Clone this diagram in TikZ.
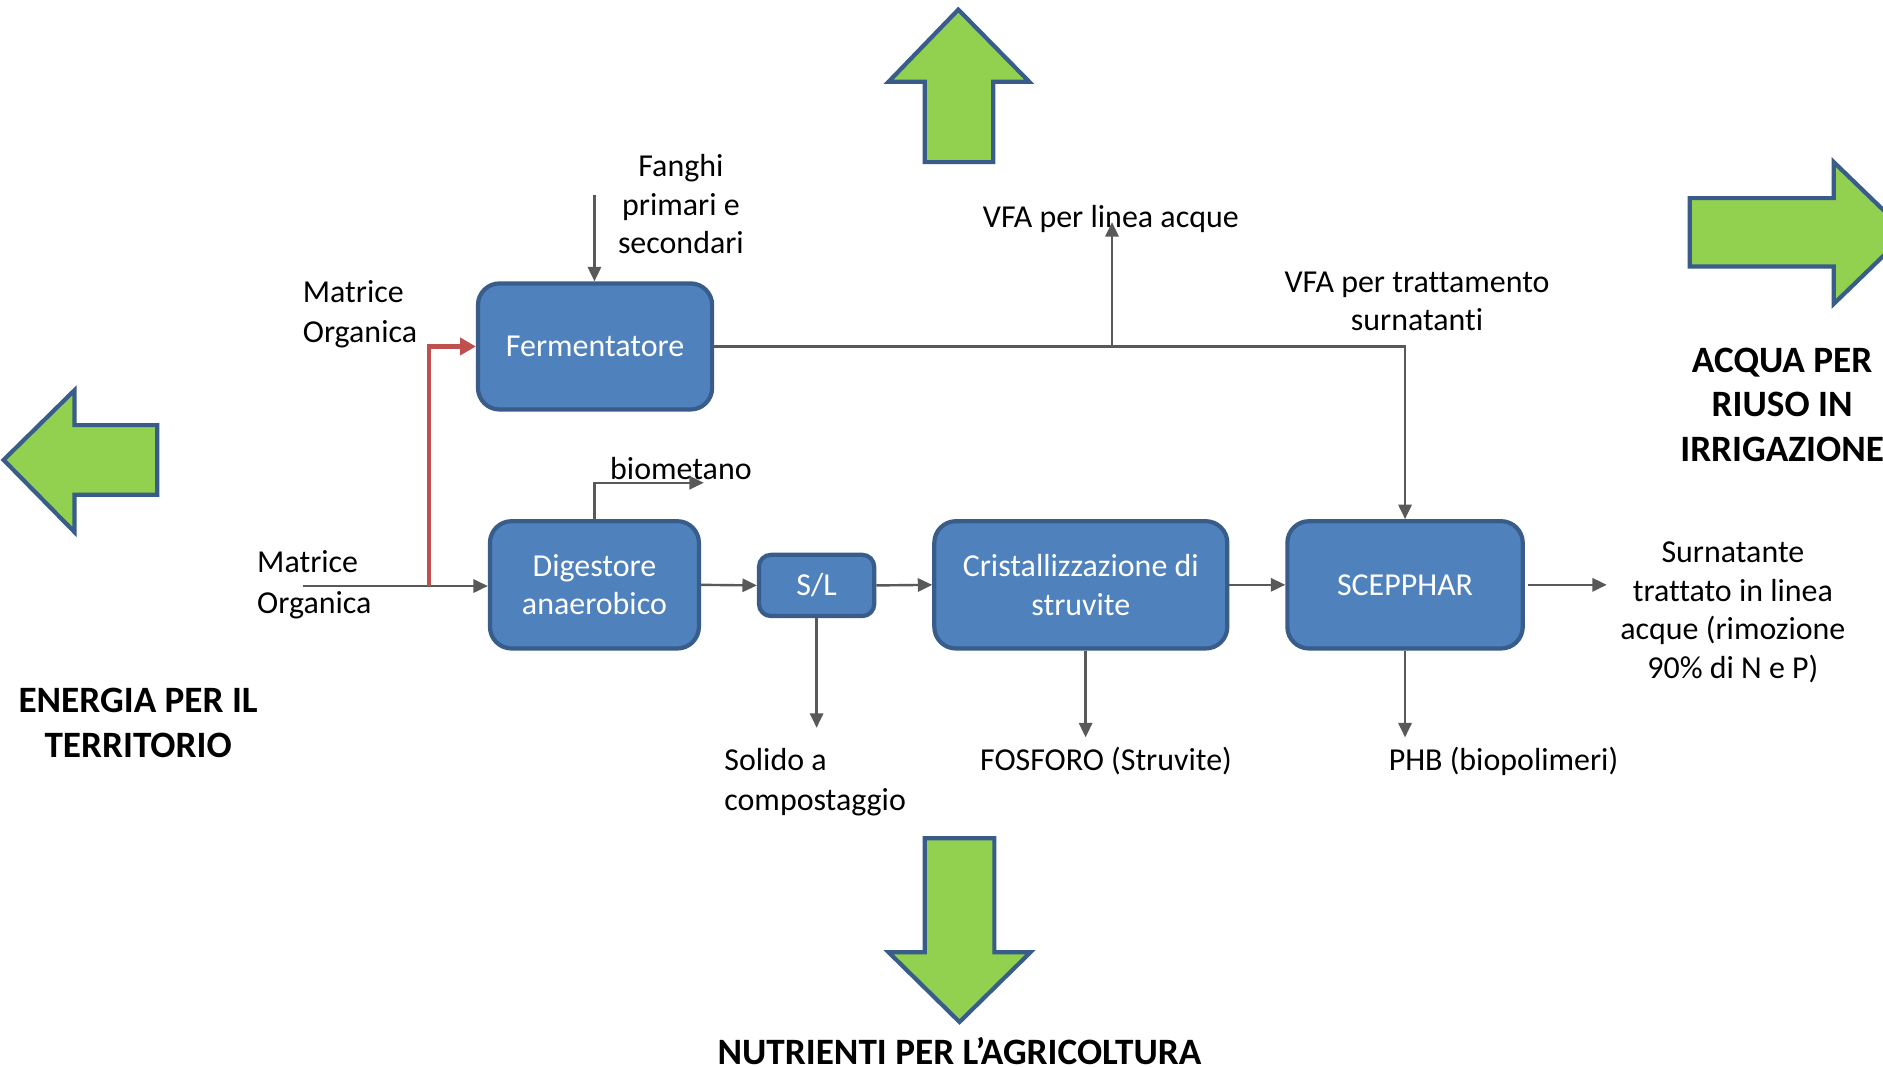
\documentclass[tikz,border=0pt]{standalone}
\usepackage{fontspec}
\setmainfont{Carlito}[Ligatures=NoCommon]
\usetikzlibrary{arrows.meta}
\definecolor{boxfill}{HTML}{4F81BD}
\definecolor{boxedge}{HTML}{385D8A}
\definecolor{linegray}{HTML}{595959}
\definecolor{redline}{HTML}{C0504D}
\definecolor{greenfill}{HTML}{92D050}
\begin{document}
\begin{tikzpicture}[x=1pt,y=-1pt,
 proc/.style={draw=boxedge, fill=boxfill, line width=3.5pt, rounded corners=18pt, text=white, align=center, font=\fontsize{26.6}{32}\selectfont, inner sep=0pt},
 lbl/.style={align=center, font=\fontsize{26.6}{32}\selectfont, inner sep=0pt},
 lbll/.style={align=left, font=\fontsize{26.6}{33.5}\selectfont, inner sep=0pt},
 big/.style={align=center, font=\bfseries\fontsize{31}{37}\selectfont, inner sep=0pt},
 flow/.style={draw=linegray, line width=2pt, -{Triangle[length=12pt,width=11pt]}},
 redflow/.style={draw=redline, line width=3.5pt, -{Triangle[length=13pt,width=14pt]}},
 garrow/.style={fill=greenfill, draw=boxedge, line width=3.5pt, line join=miter},
]
\useasboundingbox (0,0) rectangle (1568,888);
\clip (0,0) rectangle (1568,888);
\fill[white] (0,0) rectangle (1568,888);

% green arrows
\draw[garrow] (740,68) -- (798,8) -- (857,68) -- (827,68) -- (827,135) -- (770,135) -- (770,68) -- cycle;
\draw[garrow] (1407,165) -- (1527,165) -- (1527,135) -- (1588,194) -- (1527,253) -- (1527,222) -- (1407,222) -- cycle;
\draw[garrow] (3,383) -- (62,325) -- (62,354) -- (131,354) -- (131,412) -- (62,412) -- (62,443) -- cycle;
\draw[garrow] (770,698) -- (828,698) -- (828,793) -- (858,793) -- (799,851) -- (740,793) -- (770,793) -- cycle;

% big labels
\node[big] (acqua) at (1484,337) {ACQUA PER\\RIUSO IN\\IRRIGAZIONE};
\node[big] (energia) at (115,602) {ENERGIA PER IL\\TERRITORIO};
\node[big] (nutr) at (799,875) {NUTRIENTI PER L’AGRICOLTURA};

% process boxes
\node[proc, minimum width=195pt, minimum height=105pt] (ferm) at (495.5,288.5) {Fermentatore};
\node[proc, minimum width=174pt, minimum height=106pt] (dig) at (495,487) {Digestore\\anaerobico};
\node[proc, minimum width=96pt, minimum height=51pt, rounded corners=10pt] (sl) at (680,487.5) {S/L};
\node[proc, minimum width=244pt, minimum height=106pt] (cris) at (900,487) {Cristallizzazione di\\struvite};
\node[proc, minimum width=196pt, minimum height=106pt] (scep) at (1170,487) {SCEPPHAR};

% labels
\node[lbl] (fanghi) at (567,170) {Fanghi\\primari e\\secondari};
\node[lbll, anchor=west] (mo1) at (252,262) {Matrice\\Organica};
\node[lbll, anchor=west] (mo2) at (214,487) {Matrice\\Organica};
\node[lbl] (vfa1) at (925,182) {VFA per linea acque};
\node[lbl] (vfa2) at (1180,251) {VFA per trattamento\\surnatanti};
\node[lbl] (biom) at (567,390) {biometano};
\node[lbl] (surn) at (1443,510) {Surnatante\\trattato in linea\\acque (rimozione\\90\% di N e P)};
\node[lbll, anchor=west] (solido) at (603,651) {Solido a\\compostaggio};
\node[lbl] (fosforo) at (921,634) {FOSFORO (Struvite)};
\node[lbl] (phb) at (1252,634) {PHB (biopolimeri)};

% coordinates for free ends
\coordinate (moin) at (252,488);
\coordinate (rj) at (357,488);
\coordinate (fin) at (495,162);
\coordinate (vfatip) at (926,185);
\coordinate (biotip) at (586,402);
\coordinate (sout) at (1338,487);
\coordinate (soltip) at (680,606);
\coordinate (fostip) at (904,614);
\coordinate (phbtip) at (1170,614);

% connectors
\draw[flow] (moin) -- (moin -| dig.west);
\draw[redflow] (rj) |- (ferm.west);
\draw[flow] (fin) -- (fin |- ferm.north);
\draw[flow] (ferm.east) -| (scep.north);
\draw[flow] (vfatip |- ferm.east) -- (vfatip);
\draw[flow] (dig.north) |- (biotip);
\draw[flow] (dig.east) -- (sl.west);
\draw[flow] (sl.east) -- (cris.west);
\draw[flow] (cris.east) -- (scep.west);
\draw[flow] ([xshift=3pt]scep.east) -- (sout);
\draw[flow] (sl.south) -- (soltip);
\draw[flow] (fostip |- cris.south) -- (fostip);
\draw[flow] (scep.south) -- (phbtip);
\end{tikzpicture}
\end{document}
